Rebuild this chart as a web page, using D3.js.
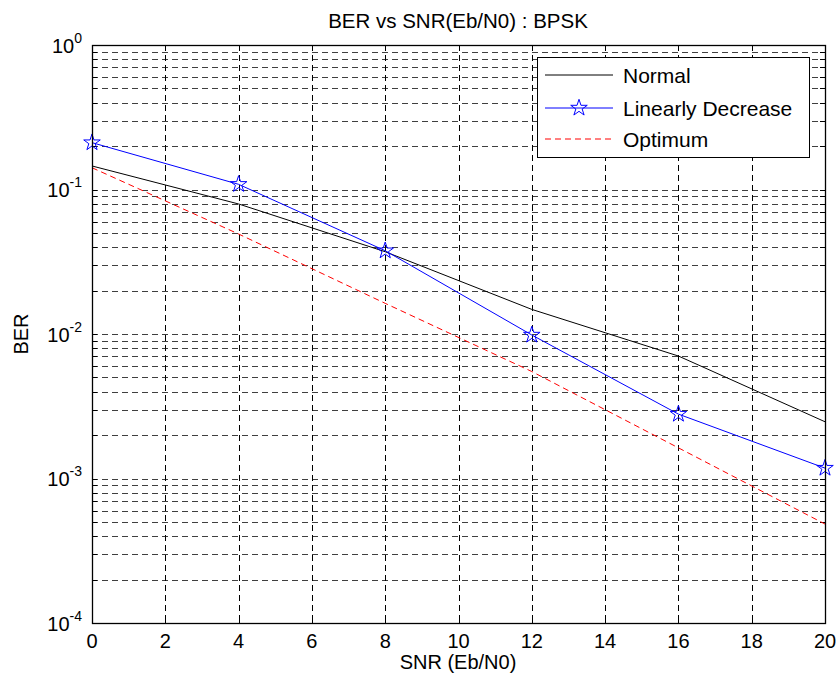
<!DOCTYPE html>
<html><head><meta charset="utf-8">
<script src="https://cdn.jsdelivr.net/npm/d3@7"></script>
<style>body{margin:0;background:#fff;} text{font-family:"Liberation Sans",Arial,sans-serif;fill:#000;}</style>
</head><body>
<svg id="c" width="838" height="681"></svg>
<script>
const snr = [0, 4, 8, 12, 16, 20];
const berNormal = [0.1455, 0.0794, 0.0371, 0.0148, 0.00704, 0.00247];
const berLinear = [0.211, 0.1086, 0.0377, 0.00984, 0.00279, 0.00118];
const berOptimum = [0.1415, 0.0492, 0.0163, 0.0055, 0.00163, 0.000484];
const xTicks = [0, 2, 4, 6, 8, 10, 12, 14, 16, 18, 20];
const yExponents = [0, -1, -2, -3, -4];
const seriesNames = ["Normal", "Linearly Decrease", "Optimum"];
const titleText = "BER vs SNR(Eb/N0) : BPSK";
const xLabel = "SNR (Eb/N0)";
const yLabel = "BER";

const svg = d3.select("#c");
const L = 92, R = 825, T = 45, B = 623;
const x = d3.scaleLinear().domain([0, 20]).range([L, R]);
const y = d3.scaleLog().domain([1e-4, 1]).range([B, T]);

const minor = [];
for (let e = -4; e < 0; e++) for (let m = 1; m <= 9; m++) minor.push(m * Math.pow(10, e));
minor.push(1);

const g = svg.append("g");
g.selectAll("line.hg").data(minor.filter(v => v > 1e-4 && v < 1)).enter().append("line")
  .attr("x1", L).attr("x2", R).attr("y1", d => Math.round(y(d)) + 0.5).attr("y2", d => Math.round(y(d)) + 0.5)
  .attr("stroke", "#000").attr("stroke-width", 1).attr("stroke-dasharray", "6,4").attr("opacity", 0.75);
g.selectAll("line.vg").data(xTicks.slice(1, -1)).enter().append("line")
  .attr("y1", T).attr("y2", B).attr("x1", d => Math.round(x(d)) + 0.5).attr("x2", d => Math.round(x(d)) + 0.5)
  .attr("stroke", "#000").attr("stroke-width", 1).attr("stroke-dasharray", "6,4");

const tk = svg.append("g");
minor.forEach(v => {
  const yy = Math.round(y(v)) + 0.5;
  const len = 5;
  tk.append("line").attr("x1", L).attr("x2", L + len).attr("y1", yy).attr("y2", yy).attr("stroke", "#000");
  tk.append("line").attr("x1", R - len).attr("x2", R).attr("y1", yy).attr("y2", yy).attr("stroke", "#000");
});
xTicks.forEach(v => {
  const xx = Math.round(x(v)) + 0.5;
  tk.append("line").attr("x1", xx).attr("x2", xx).attr("y1", B).attr("y2", B - 6).attr("stroke", "#000");
  tk.append("line").attr("x1", xx).attr("x2", xx).attr("y1", T).attr("y2", T + 6).attr("stroke", "#000");
});

const line = d3.line().x((d, i) => x(snr[i])).y(d => y(d));
svg.append("path").datum(berNormal).attr("d", line).attr("fill", "none").attr("stroke", "#000").attr("stroke-width", 1);
svg.append("path").datum(berOptimum).attr("d", line).attr("fill", "none").attr("stroke", "#ff0000").attr("stroke-width", 1).attr("stroke-dasharray", "6,4");
svg.append("path").datum(berLinear).attr("d", line).attr("fill", "none").attr("stroke", "#0000ff").attr("stroke-width", 1);

const star = d3.symbol().type(d3.symbolStar).size(85);
svg.selectAll("path.st").data(berLinear).enter().append("path")
  .attr("d", star).attr("transform", (d, i) => `translate(${x(snr[i])},${y(d)})`)
  .attr("fill", "none").attr("stroke", "#0000ff").attr("stroke-width", 1);

svg.append("rect").attr("x", L + 0.5).attr("y", T + 0.5).attr("width", R - L).attr("height", B - T)
  .attr("fill", "none").attr("stroke", "#000").attr("stroke-width", 1.3);

svg.selectAll("text.xt").data(xTicks).enter().append("text")
  .attr("x", d => x(d)).attr("y", 648).attr("text-anchor", "middle").attr("font-size", 20).text(d => d);
yExponents.forEach(e => {
  const t = svg.append("text").attr("x", 82).attr("y", y(Math.pow(10, e)) + 7.5).attr("text-anchor", "end").attr("font-size", 20);
  t.append("tspan").text("10");
  t.append("tspan").attr("dy", -10).attr("font-size", 14).text(String(e));
});

svg.append("text").attr("x", 458).attr("y", 28).attr("text-anchor", "middle").attr("font-size", 20.5).text(titleText);
svg.append("text").attr("x", 458).attr("y", 669).attr("text-anchor", "middle").attr("font-size", 20).text(xLabel);
svg.append("text").attr("transform", "translate(28,334) rotate(-90)").attr("text-anchor", "middle").attr("font-size", 20).text(yLabel);

const lg = svg.append("g");
lg.append("rect").attr("x", 537.5).attr("y", 57.5).attr("width", 272).attr("height", 100).attr("fill", "#fff").attr("stroke", "#000");
const lgY = [75, 108, 139];
const lgStyle = [{c: "#000", d: null}, {c: "#0000ff", d: null}, {c: "#ff0000", d: "6,4"}];
seriesNames.forEach((n, i) => {
  const l = lg.append("line").attr("x1", 545).attr("x2", 613).attr("y1", lgY[i]).attr("y2", lgY[i]).attr("stroke", lgStyle[i].c);
  if (lgStyle[i].d) l.attr("stroke-dasharray", lgStyle[i].d);
  lg.append("text").attr("x", 623).attr("y", lgY[i] + 7.5).attr("font-size", 21).text(n);
});
lg.append("path").attr("d", star).attr("transform", `translate(579,${lgY[1]})`).attr("fill", "none").attr("stroke", "#0000ff");
</script>
</body></html>
